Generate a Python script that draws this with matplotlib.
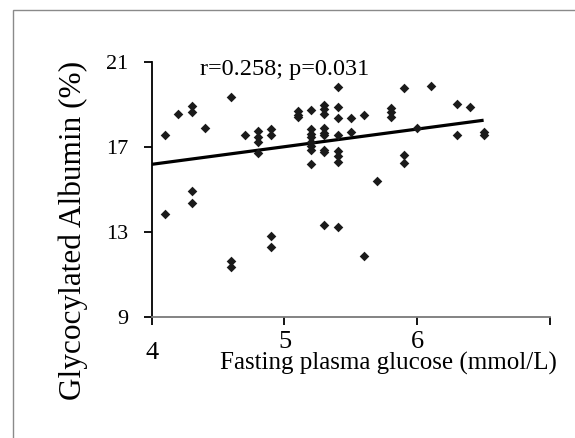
import matplotlib
matplotlib.use("Agg")
import matplotlib.pyplot as plt
from matplotlib.patches import Rectangle
import numpy as np

# ---- data ----
fpg = [4.1, 4.1,
       4.2,
       4.3, 4.3, 4.3, 4.3,
       4.4,
       4.6, 4.6, 4.6,
       4.7,
       4.8, 4.8, 4.8, 4.8,
       4.9, 4.9, 4.9, 4.9,
       5.1, 5.1, 5.1,
       5.2, 5.2, 5.2, 5.2, 5.2, 5.2, 5.2, 5.2,
       5.3, 5.3, 5.3, 5.3, 5.3, 5.3, 5.3, 5.3, 5.3,
       5.4, 5.4, 5.4, 5.4, 5.4, 5.4, 5.4, 5.4,
       5.5, 5.5,
       5.6, 5.6,
       5.7,
       5.8, 5.8, 5.8,
       5.9, 5.9, 5.9,
       6.0,
       6.1,
       6.3, 6.3,
       6.4,
       6.5, 6.5]
ga = [17.53, 13.84,
      18.56,
      18.91, 18.65, 14.90, 14.37,
      17.90,
      19.35, 11.60, 11.35,
      17.55,
      17.75, 17.45, 17.20, 16.70,
      17.85, 17.55, 12.80, 12.30,
      18.70, 18.50, 18.40,
      18.73, 17.83, 17.62, 17.44, 17.23, 17.05, 16.85, 16.20,
      18.96, 18.76, 18.56, 17.90, 17.65, 17.55, 16.85, 16.75, 13.30,
      19.80, 18.87, 18.37, 17.56, 16.81, 16.55, 16.30, 13.24,
      18.37, 17.70,
      18.50, 11.85,
      15.38,
      18.84, 18.62, 18.40,
      19.77, 16.63, 16.25,
      17.87,
      19.85,
      19.02, 17.56,
      18.88,
      17.67, 17.56]

fit_slope = 0.83
fit_at_4 = 16.17
fit_x_range = [4.0, 6.5]

x_ticks = [4, 5, 6, 7]
x_tick_labels = ["4", "5", "6", ""]
y_ticks = [9, 13, 17, 21]
y_tick_labels = ["9", "13", "17", "21"]

annotation = "r=0.258; p=0.031"
x_label = "Fasting plasma glucose (mmol/L)"
y_label = "Glycocylated Albumin (%)"

plt.rcParams['font.family'] = ['Liberation Serif', 'DejaVu Serif']

W, H = 575, 438
fig = plt.figure(figsize=(W / 100, H / 100), dpi=100)
fig.patch.set_facecolor("white")

# outer frame (top and left edges visible)
fig.patches.append(Rectangle((13.3 / W, -0.05), 1.2, 1 - 10.5 / H + 0.05,
                             transform=fig.transFigure, fill=False,
                             edgecolor="#8a8a8a", linewidth=1.0))

ax_l, ax_r, ax_t, ax_b = 151.7, 550.0, 61.7, 316.7
ax = fig.add_axes([ax_l / W, 1 - ax_b / H, (ax_r - ax_l) / W, (ax_b - ax_t) / H])
ax.set_facecolor("none")

ax.scatter(fpg, ga, marker="D", s=24, color="#1a1a1a", linewidths=0, zorder=3)

xs = np.array(fit_x_range)
ax.plot(xs, fit_at_4 + fit_slope * (xs - 4.0), color="black", linewidth=2.3,
        solid_capstyle="butt", zorder=2)

ax.set_xlim(4, 7)
ax.set_ylim(9, 21)
ax.set_xticks(x_ticks)
ax.set_xticklabels(x_tick_labels, fontsize=19)
ax.set_yticks(y_ticks)
ax.set_yticklabels(y_tick_labels, fontsize=16)

for s in ["top", "right"]:
    ax.spines[s].set_visible(False)
ax.spines["left"].set_color("black")
ax.spines["left"].set_linewidth(1.3)
ax.spines["bottom"].set_color("#7a7a7a")
ax.spines["bottom"].set_linewidth(1.3)

ax.tick_params(axis="both", direction="out", length=5.8, width=1.3, color="black")
ax.tick_params(axis="y", pad=11)
ax.tick_params(axis="x", pad=4.5)
ax.xaxis.get_major_ticks()[0].set_pad(12.5)

ax.set_xlabel(x_label, fontsize=18)
ax.xaxis.set_label_coords((388 - ax_l) / (ax_r - ax_l), -(363 - ax_b) / (ax_b - ax_t))
ax.xaxis.label.set_va("center")

ax.set_ylabel(y_label, fontsize=22.5)
ax.yaxis.set_label_coords((73 - ax_l) / (ax_r - ax_l), (ax_b - 230) / (ax_b - ax_t))
ax.yaxis.label.set_va("center")

ax.text((200 - ax_l) / (ax_r - ax_l), (ax_b - 75) / (ax_b - ax_t), annotation,
        transform=ax.transAxes, fontsize=17.5, ha="left", va="baseline")

fig.savefig("out.png", dpi=100, facecolor="white")
